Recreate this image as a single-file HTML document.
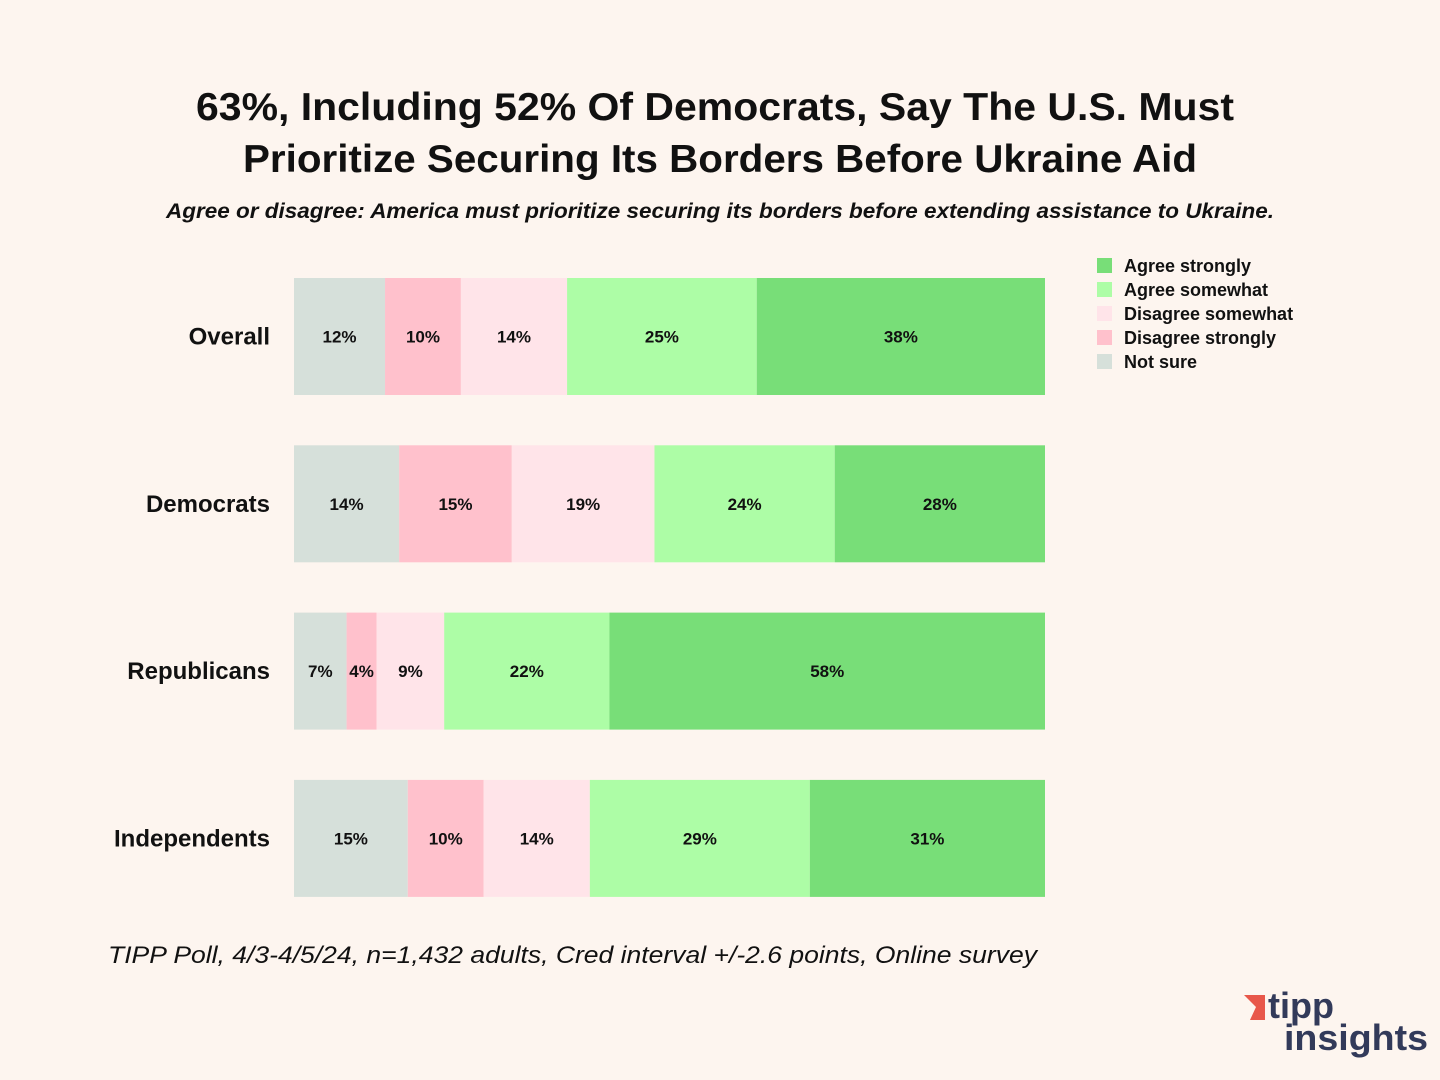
<!DOCTYPE html>
<html><head><meta charset="utf-8"><style>
body{margin:0;background:#fdf5ef;}
svg{display:block;font-family:"Liberation Sans",sans-serif;}
</style></head><body>
<svg id="chart" width="1440" height="1080" viewBox="0 0 1440 1080">
<rect width="1440" height="1080" fill="#fdf5ef"/>
<text x="196" y="120" textLength="1038" lengthAdjust="spacingAndGlyphs" font-size="39" font-weight="bold" fill="#111">63%, Including 52% Of Democrats, Say The U.S. Must</text>
<text x="243" y="172" textLength="954" lengthAdjust="spacingAndGlyphs" font-size="39" font-weight="bold" fill="#111">Prioritize Securing Its Borders Before Ukraine Aid</text>
<text x="166" y="218" textLength="1108" lengthAdjust="spacingAndGlyphs" font-size="21" font-style="italic" font-weight="bold" fill="#111">Agree or disagree: America must prioritize securing its borders before extending assistance to Ukraine.</text>
<text x="108" y="963" textLength="929" lengthAdjust="spacingAndGlyphs" font-size="24" font-style="italic" fill="#111">TIPP Poll, 4/3-4/5/24, n=1,432 adults, Cred interval +/-2.6 points, Online survey</text>
<g id="bars"></g>
<g id="legend"></g>
<g>
<polygon points="1244,995 1265,995 1265,1020 1250,1020 1256,1007" fill="#e8574a"/>
<text x="1268" y="1018" font-size="36" font-weight="bold" fill="#323a5a">tipp</text>
<text x="1284" y="1050" textLength="144" lengthAdjust="spacingAndGlyphs" font-size="36" font-weight="bold" fill="#323a5a">insights</text>
</g>
</svg>
<script>
const categories=["Overall","Democrats","Republicans","Independents"];
const seriesNames=["Not sure","Disagree strongly","Disagree somewhat","Agree somewhat","Agree strongly"];
const notSure=[12,14,7,15];
const disagreeStrongly=[10,15,4,10];
const disagreeSomewhat=[14,19,9,14];
const agreeSomewhat=[25,24,22,29];
const agreeStrongly=[38,28,58,31];
const series=[notSure,disagreeStrongly,disagreeSomewhat,agreeSomewhat,agreeStrongly];
const colors=["#d6e0da","#ffc1cc","#ffe4e9","#adfda6","#78de78"];
const NS="http://www.w3.org/2000/svg";
const x0=294,x1=1045,yTop=278,step=167.3,bh=117;
const xScale=(v,tot)=>x0+(x1-x0)*v/tot;
const yScale=i=>yTop+i*step;
const g=document.getElementById('bars');
categories.forEach((c,i)=>{
  const tot=series.reduce((s,a)=>s+a[i],0);
  let cum=0;const y=yScale(i);
  const lab=document.createElementNS(NS,'text');
  lab.setAttribute('x',270);lab.setAttribute('y',y+bh/2+8);lab.setAttribute('text-anchor','end');
  lab.setAttribute('font-size',24);lab.setAttribute('font-weight','bold');lab.setAttribute('fill','#111');
  lab.textContent=c;
  
  
  g.appendChild(lab);
  series.forEach((arr,k)=>{
    const v=arr[i];const xa=xScale(cum,tot),xb=xScale(cum+v,tot);cum+=v;
    const r=document.createElementNS(NS,'rect');
    r.setAttribute('x',xa);r.setAttribute('y',y);r.setAttribute('width',xb-xa);r.setAttribute('height',bh);r.setAttribute('fill',colors[k]);
    
    
    g.appendChild(r);
    const t=document.createElementNS(NS,'text');
    t.setAttribute('x',(xa+xb)/2);t.setAttribute('y',y+bh/2+6);t.setAttribute('text-anchor','middle');
    t.setAttribute('font-size',17);t.setAttribute('font-weight','bold');t.setAttribute('fill','#111');
    t.textContent=v+'%';
    
    
    g.appendChild(t);
  });
});
const lg=document.getElementById('legend');
[4,3,2,1,0].forEach((k,j)=>{
  const y=258+j*24;
  const r=document.createElementNS(NS,'rect');
  r.setAttribute('x',1097);r.setAttribute('y',y);r.setAttribute('width',15);r.setAttribute('height',15);r.setAttribute('fill',colors[k]);
  
  
  lg.appendChild(r);
  const t=document.createElementNS(NS,'text');
  t.setAttribute('x',1124);t.setAttribute('y',y+14);t.setAttribute('font-size',18);t.setAttribute('font-weight','bold');t.setAttribute('fill','#111');
  t.textContent=seriesNames[k];
  
  
  lg.appendChild(t);
});
</script>
</body></html>
